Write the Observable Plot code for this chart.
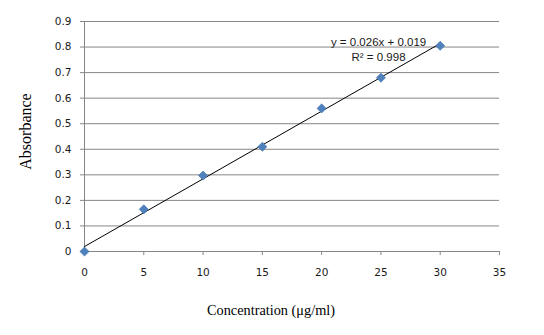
<!DOCTYPE html>
<html><head><meta charset="utf-8">
<script src="https://cdn.jsdelivr.net/npm/d3@7"></script>
<script src="https://cdn.jsdelivr.net/npm/@observablehq/plot@0.6"></script>
<style>body{margin:0;background:#fff}</style>
</head><body><div id="chart"></div>
<script>
const concentration = [0, 5, 10, 15, 20, 25, 30];
const absorbance = [0, 0.165, 0.297, 0.41, 0.56, 0.68, 0.805];
const xTicks = [0, 5, 10, 15, 20, 25, 30, 35];
const yTicks = [0, 0.1, 0.2, 0.3, 0.4, 0.5, 0.6, 0.7, 0.8, 0.9];
const equationLabel = "y = 0.026x + 0.019\nR² = 0.998";
const equationAt = {x: 24.8, y: 0.795};
const xTitle = "Concentration (μg/ml)";
const yTitle = "Absorbance";

const data = concentration.map((c, i) => ({c, a: absorbance[i]}));
const gray = "#868686";

const plot = Plot.plot({
  width: 544, height: 335,
  marginLeft: 84, marginRight: 45, marginTop: 21, marginBottom: 84,
  style: {fontFamily: "'DejaVu Sans', sans-serif", fontSize: "10.5px", color: "#1a1a1a", background: "#fff"},
  x: {domain: [0, 35]},
  y: {domain: [0, 0.9]},
  marks: [
    Plot.gridY(yTicks, {stroke: gray, strokeOpacity: 1}),
    Plot.ruleX([0], {stroke: gray}),
    Plot.ruleY([0], {stroke: gray}),
    Plot.axisY(yTicks, {tickSize: 4, tickPadding: 9, stroke: gray, label: null, tickFormat: d => String(d)}),
    Plot.axisX(xTicks, {tickSize: 4, tickPadding: 13, stroke: gray, label: null, tickFormat: d => String(d)}),
    Plot.linearRegressionY(data, {x: "c", y: "a", stroke: "#000", strokeWidth: 1, ci: 0}),
    Plot.dot(data, {x: "c", y: "a", symbol: "diamond2", r: 4.1, fill: "#4F81BD", stroke: "#3d6ea8", strokeWidth: 0.6}),
    Plot.text([equationLabel], {x: () => equationAt.x, y: () => equationAt.y, fontFamily: "'Liberation Sans', sans-serif", fontSize: 11.5, lineHeight: 1.36, fill: "#1a1a1a"}),
    Plot.text([yTitle], {frameAnchor: "left", textAnchor: "middle", rotate: -90, dx: -59, dy: -5, lineAnchor: "middle", fontFamily: "'Liberation Serif', serif", fontSize: 16, fill: "#000"}),
    Plot.text([xTitle], {frameAnchor: "bottom", textAnchor: "middle", dx: -21, dy: 59, lineAnchor: "middle", fontFamily: "'Liberation Serif', serif", fontSize: 14.3, fill: "#000"})
  ]
});
document.getElementById("chart").appendChild(plot);
</script>
</body></html>
